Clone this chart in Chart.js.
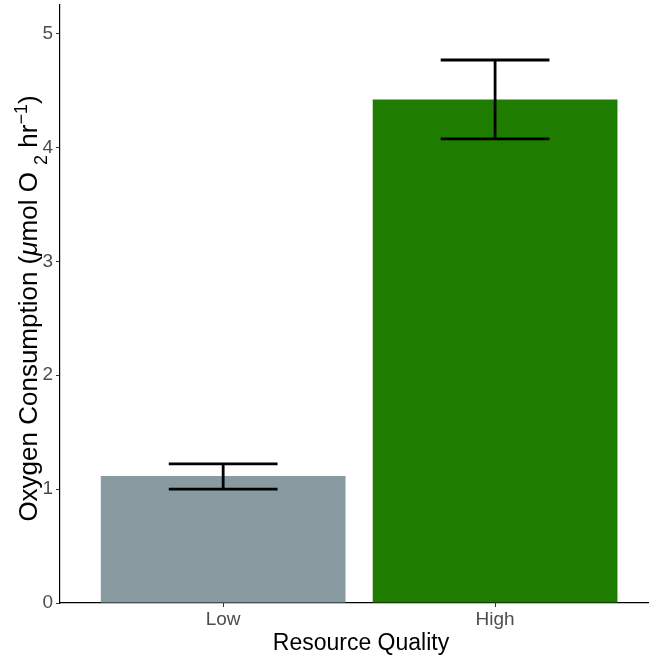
<!DOCTYPE html>
<html>
<head>
<meta charset="utf-8">
<script src="https://cdn.jsdelivr.net/npm/chart.js@4"></script>
<style>
  html, body { margin: 0; padding: 0; background: #ffffff; }
  #wrap { width: 649px; height: 661px; }
</style>
</head>
<body>
<div id="wrap"><canvas id="c" width="649" height="661"></canvas></div>
<script>
// Oxygen consumption by resource quality (mean with error range)
const categories = ['Low', 'High'];
const meanValues = [1.115, 4.42];
const errorLower = [1.0, 4.075];
const errorUpper = [1.222, 4.767];
const yTickValues = [0, 1, 2, 3, 4, 5];
const barColors = ['#899ba1', '#1e7d00'];

const FONT = '"Liberation Sans", Arial, Helvetica, sans-serif';

// Error bars: vertical whisker plus two caps, drawn through the chart scales
const errorBarPlugin = {
  id: 'errorBars',
  afterDatasetsDraw(chart) {
    const { ctx, scales: { x, y } } = chart;
    ctx.save();
    ctx.strokeStyle = '#000000';
    ctx.lineWidth = 2.8;
    ctx.lineCap = 'butt';
    categories.forEach((_, i) => {
      const cx = x.getPixelForValue(i + 1);
      const half = x.getPixelForValue(i + 1 + 0.2) - cx;
      const yLo = y.getPixelForValue(errorLower[i]);
      const yHi = y.getPixelForValue(errorUpper[i]);
      ctx.beginPath();
      ctx.moveTo(cx, yLo); ctx.lineTo(cx, yHi);
      ctx.moveTo(cx - half, yLo); ctx.lineTo(cx + half, yLo);
      ctx.moveTo(cx - half, yHi); ctx.lineTo(cx + half, yHi);
      ctx.stroke();
    });
    ctx.restore();
  }
};

// Axis titles, with sub/superscripts in the y title
const axisTitlePlugin = {
  id: 'axisTitles',
  afterDraw(chart) {
    const { ctx } = chart;
    ctx.save();
    ctx.fillStyle = '#000000';
    ctx.textBaseline = 'alphabetic';

    // x title
    ctx.font = '23px ' + FONT;
    ctx.textAlign = 'center';
    ctx.fillText('Resource Quality', 361, 650);

    // y title, built from pieces
    const main = 26, small = 18;
    const parts = [
      { t: 'Oxygen Consumption (', size: main, style: '', dy: 0 },
      { t: 'μ', size: main, style: 'italic ', dy: 0 },
      { t: 'mol O ', size: main, style: '', dy: 0 },
      { t: '2', size: small, style: '', dy: 10 },
      { t: ' hr', size: main, style: '', dy: 0 },
      { t: '−1', size: small, style: '', dy: -10 },
      { t: ')', size: main, style: '', dy: 0 }
    ];
    let total = 0;
    parts.forEach(p => {
      ctx.font = p.style + p.size + 'px ' + FONT;
      p.w = ctx.measureText(p.t).width;
      total += p.w;
    });
    const centerY = 308.5;
    ctx.translate(37, centerY + total / 2);
    ctx.rotate(-Math.PI / 2);
    ctx.textAlign = 'left';
    let u = 0;
    parts.forEach(p => {
      ctx.font = p.style + p.size + 'px ' + FONT;
      ctx.fillText(p.t, u, p.dy);
      u += p.w;
    });
    ctx.restore();
  }
};

function noScalePadding(scale) {
  scale.paddingTop = 0;
  scale.paddingBottom = 0;
  scale.paddingLeft = 0;
  scale.paddingRight = 0;
}

new Chart(document.getElementById('c'), {
  type: 'bar',
  data: {
    datasets: [{
      data: categories.map((c, i) => ({ x: i + 1, y: meanValues[i] })),
      backgroundColor: barColors,
      borderWidth: 0,
      barPercentage: 0.9,
      categoryPercentage: 1.0
    }]
  },
  options: {
    responsive: false,
    animation: false,
    devicePixelRatio: 1,
    layout: { padding: { top: 5, right: 0, left: 0, bottom: 0 } },
    plugins: { legend: { display: false }, tooltip: { enabled: false } },
    scales: {
      x: {
        type: 'linear',
        offset: false,
        min: 0.4,
        max: 2.566,
        afterBuildTicks(scale) {
          scale.ticks = categories.map((c, i) => ({ value: i + 1 }));
        },
        afterFit(scale) { scale.height = 58; noScalePadding(scale); },
        ticks: {
          autoSkip: false,
          maxRotation: 0,
          padding: 1,
          color: '#4d4d4d',
          font: { family: FONT, size: 19 },
          callback: (v) => categories[Math.round(v) - 1] || ''
        },
        grid: {
          display: true,
          offset: false,
          drawOnChartArea: false,
          drawTicks: true,
          tickLength: 4,
          color: '#333333',
          lineWidth: 1
        },
        border: { display: true, color: '#000000', width: 1.2 }
      },
      y: {
        min: 0,
        max: 5.25,
        afterBuildTicks(scale) {
          scale.ticks = yTickValues.map(v => ({ value: v }));
        },
        afterFit(scale) { scale.width = 60; noScalePadding(scale); },
        ticks: {
          padding: 3,
          color: '#4d4d4d',
          font: { family: FONT, size: 19 },
          callback: (v) => String(v)
        },
        grid: {
          display: true,
          drawOnChartArea: false,
          drawTicks: true,
          tickLength: 4,
          color: '#333333',
          lineWidth: 1
        },
        border: { display: true, color: '#000000', width: 1.2 }
      }
    }
  },
  plugins: [errorBarPlugin, axisTitlePlugin]
});
</script>
</body>
</html>
